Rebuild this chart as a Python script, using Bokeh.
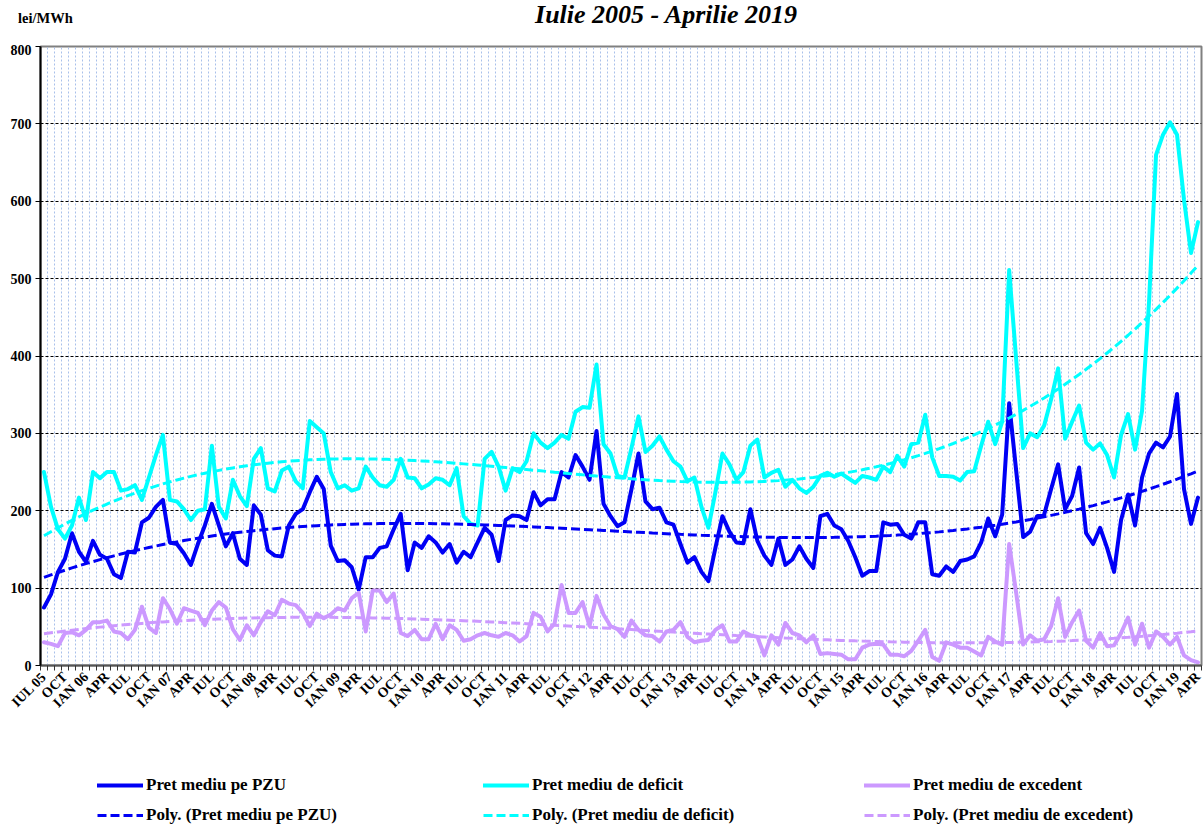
import numpy as np
from bokeh.plotting import figure
from bokeh.layouts import column
from bokeh.models import Range1d, FixedTicker, Legend, LegendItem, Div
from bokeh.embed import file_html
from bokeh.resources import INLINE

# ---------------- data (lei/MWh), monthly Jul 2005 .. Apr 2019 ----------------
pzu = [75, 92, 121, 138, 171, 147, 134, 161, 143, 138, 118, 113, 147, 146, 185, 191, 205, 214,
       159, 157, 145, 130, 157, 181, 209, 181, 154, 171, 138, 130, 207, 195, 149, 142, 141, 181,
       196, 202, 224, 244, 228, 155, 135, 136, 127, 98, 140, 140, 152, 154, 176, 196, 123, 159,
       152, 167, 159, 146, 157, 133, 147, 140, 159, 178, 169, 135, 188, 194, 193, 188, 224, 207,
       215, 215, 250, 243, 272, 257, 240, 303, 209, 193, 180, 185, 228, 274, 212, 202, 204, 185,
       182, 157, 133, 140, 121, 109, 152, 193, 173, 159, 158, 202, 161, 142, 130, 164, 130, 137,
       154, 138, 126, 193, 196, 181, 176, 161, 140, 116, 122, 122, 185, 182, 183, 169, 164, 185,
       185, 118, 116, 128, 121, 135, 137, 141, 159, 190, 167, 195, 339, 252, 166, 173, 193, 195,
       228, 260, 202, 219, 256, 171, 157, 178, 152, 121, 188, 221, 181, 243, 274, 288, 282, 296,
       351, 228, 183, 217]

deficit = [250, 205, 176, 164, 181, 217, 188, 250, 242, 250, 250, 226, 228, 233, 214, 243, 272, 298,
           214, 212, 202, 188, 200, 202, 284, 205, 190, 240, 219, 206, 267, 281, 229, 225, 252, 257,
           238, 229, 316, 308, 300, 250, 229, 233, 226, 229, 257, 243, 233, 231, 240, 267, 243, 242,
           229, 234, 242, 240, 233, 255, 193, 183, 181, 267, 276, 257, 226, 255, 250, 264, 300, 288,
           281, 288, 298, 293, 328, 334, 333, 389, 286, 274, 245, 243, 281, 322, 276, 284, 296, 279,
           264, 257, 238, 243, 205, 178, 224, 274, 260, 240, 250, 284, 292, 243, 249, 253, 231, 240,
           229, 223, 231, 245, 249, 244, 248, 242, 236, 245, 243, 240, 257, 250, 271, 257, 286, 288,
           324, 269, 245, 245, 244, 239, 250, 251, 284, 315, 286, 315, 511, 396, 281, 300, 295, 310,
           344, 384, 293, 315, 336, 288, 279, 287, 272, 243, 298, 325, 279, 329, 470, 660, 686, 702,
           686, 602, 533, 573]

excedent = [30, 28, 25, 42, 43, 39, 46, 56, 56, 58, 44, 42, 34, 46, 76, 49, 42, 87,
            73, 54, 74, 71, 68, 52, 71, 82, 75, 47, 33, 52, 39, 56, 70, 65, 85, 80,
            78, 68, 51, 67, 61, 66, 74, 71, 87, 94, 44, 97, 97, 82, 93, 42, 38, 46,
            34, 34, 54, 34, 52, 46, 32, 34, 39, 42, 39, 37, 42, 39, 31, 38, 68, 63,
            44, 54, 104, 68, 68, 82, 51, 90, 66, 51, 47, 37, 58, 46, 39, 38, 31, 44,
            46, 56, 37, 30, 32, 33, 46, 52, 31, 31, 44, 39, 37, 13, 39, 27, 55, 42,
            39, 30, 39, 15, 16, 15, 14, 8, 8, 23, 27, 28, 27, 14, 14, 12, 19, 32,
            46, 11, 6, 30, 27, 23, 23, 18, 13, 37, 31, 27, 157, 94, 27, 39, 32, 34,
            51, 87, 37, 56, 71, 32, 23, 42, 25, 26, 42, 62, 27, 54, 23, 44, 37, 27,
            37, 13, 7, 4]

quarter_labels = ["IUL 05", "OCT", "IAN 06", "APR", "IUL", "OCT", "IAN 07", "APR", "IUL", "OCT",
                  "IAN 08", "APR", "IUL", "OCT", "IAN 09", "APR", "IUL", "OCT", "IAN 10", "APR",
                  "IUL", "OCT", "IAN 11", "APR", "IUL", "OCT", "IAN 12", "APR", "IUL", "OCT",
                  "IAN 13", "APR", "IUL", "OCT", "IAN 14", "APR", "IUL", "OCT", "IAN 15", "APR",
                  "IUL", "OCT", "IAN 16", "APR", "IUL", "OCT", "IAN 17", "APR", "IUL", "OCT",
                  "IAN 18", "APR", "IUL", "OCT", "IAN 19", "APR"]

y_ticks = [0, 100, 200, 300, 400, 500, 600, 700, 800]

title_text = "Iulie 2005 - Aprilie 2019"
unit_text = "lei/MWh"
names = ["Pret mediu pe PZU", "Pret mediu de deficit", "Pret mediu de excedent"]
colors = ["#0000f5", "#00ffff", "#cc99ff"]
POLY_DEG = 3

FONT = "Liberation Serif"
W = 1203
n = len(pzu)
xs = list(range(n))

# ---------------- header: title + unit (HTML text) ----------------
HEAD_H = 44
head = Div(width=W, height=HEAD_H, margin=0, text=(
    f'<div style="position:relative;width:{W}px;height:{HEAD_H}px;overflow:hidden;'
    f'font-family:\'{FONT}\',serif;color:#000;">'
    f'<div style="position:absolute;left:466px;top:2px;width:400px;text-align:center;'
    f'font-size:26px;line-height:26px;font-weight:bold;font-style:italic;white-space:nowrap;">'
    f'{title_text}</div>'
    f'<div style="position:absolute;left:18px;top:11px;font-size:14.5px;line-height:14.5px;'
    f'font-weight:bold;white-space:nowrap;">{unit_text}</div>'
    f'</div>'))

# ---------------- main chart ----------------
MAIN_H = 2 + 619 + 100
p = figure(width=W, height=MAIN_H, output_backend="svg", toolbar_location=None,
           x_range=Range1d(-0.5, n - 0.5), y_range=Range1d(0, 800), title=None,
           min_border_left=40, min_border_right=2, min_border_top=2, min_border_bottom=100,
           background_fill_color="white", border_fill_color="white")
p.outline_line_color = "#808080"
p.outline_line_width = 2

p.xgrid.ticker = FixedTicker(ticks=[i - 0.5 for i in range(1, n)])
p.xgrid.grid_line_color = "#a9c0ea"
p.xgrid.grid_line_dash = "2 2"
p.xgrid.grid_line_width = 1
p.ygrid.ticker = FixedTicker(ticks=y_ticks[1:-1])
p.ygrid.grid_line_color = "#000000"
p.ygrid.grid_line_dash = "3 2"
p.ygrid.grid_line_width = 1

major = list(range(0, n, 3))
p.xaxis.ticker = FixedTicker(ticks=major, minor_ticks=[i - 0.5 for i in range(n + 1)])
p.xaxis.major_label_overrides = {m: lab for m, lab in zip(major, quarter_labels)}
p.xaxis.major_tick_line_color = None
p.xaxis.minor_tick_in = 0
p.xaxis.minor_tick_out = 5
p.xaxis.minor_tick_line_color = "#333333"
p.xaxis.axis_line_color = "#555555"
p.xaxis.axis_line_width = 2
p.xaxis.major_label_orientation = np.pi / 4
p.xaxis.major_label_text_font = FONT
p.xaxis.major_label_text_font_style = "bold"
p.xaxis.major_label_text_font_size = "14px"
p.xaxis.major_label_text_color = "#000000"
p.xaxis.major_label_standoff = 3

p.yaxis.ticker = FixedTicker(ticks=y_ticks)
p.yaxis.minor_tick_line_color = None
p.yaxis.major_tick_in = 0
p.yaxis.major_tick_out = 5
p.yaxis.major_tick_line_color = "#000000"
p.yaxis.axis_line_color = "#000000"
p.yaxis.axis_line_width = 2
p.yaxis.major_label_text_font = FONT
p.yaxis.major_label_text_font_style = "bold"
p.yaxis.major_label_text_font_size = "14px"
p.yaxis.major_label_text_color = "#000000"
p.yaxis.major_label_standoff = 4

series = [pzu, deficit, excedent]
for ys, c in zip(series, colors):
    p.line(xs, ys, line_color=c, line_width=4, line_join="round", line_cap="round")

# polynomial trendlines (least squares fit of each series, as Excel "Poly." trendline)
xfit = np.arange(1, n + 1, dtype=float)
for ys, c in zip(series, colors):
    poly = np.polynomial.Polynomial.fit(xfit, np.array(ys, dtype=float), POLY_DEG)
    p.line(xs, poly(xfit), line_color=c, line_width=3, line_dash="9 4")

# ---------------- legend strip ----------------
LEG_H = 825 - HEAD_H - MAIN_H
leg = figure(width=W, height=LEG_H, output_backend="svg", toolbar_location=None,
             x_range=Range1d(0, W), y_range=Range1d(0, LEG_H),
             x_axis_location=None, y_axis_location=None, title=None)
leg.grid.visible = False
leg.outline_line_color = None
leg.min_border = 0
col_x = [57, 443, 824]
row_vy = [LEG_H - 30, LEG_H - 60]
for k in range(3):
    # proxy renderers kept outside the visible range, used only for the legend glyphs
    r_main = leg.line([-20, -10], [-20, -20], line_color=colors[k], line_width=4, line_cap="round")
    r_trend = leg.line([-20, -10], [-20, -20], line_color=colors[k], line_width=3, line_dash="9 4")
    for row, (rend, lab) in enumerate([(r_main, names[k]), (r_trend, "Poly. (" + names[k] + ")")]):
        lg = Legend(items=[LegendItem(label=lab, renderers=[rend])],
                    location=(col_x[k], row_vy[row]), padding=0, margin=0,
                    border_line_color=None, background_fill_alpha=0,
                    glyph_width=46, glyph_height=20, label_height=20, label_standoff=3,
                    label_text_font=FONT, label_text_font_style="bold",
                    label_text_font_size="17px", label_text_color="#000000")
        leg.add_layout(lg, "center")

layout = column(head, p, leg, spacing=0)
open("out.html", "w").write(file_html(layout, INLINE))
